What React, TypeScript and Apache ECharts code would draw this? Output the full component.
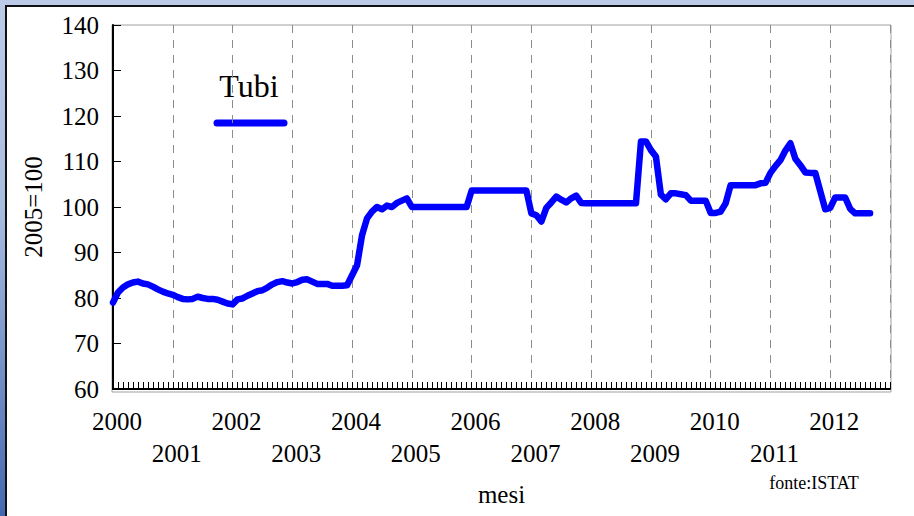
import React, { useEffect, useRef } from "react";
import * as echarts from "echarts";

// Monthly categories Jan 2000 .. Jan 2013
const years: number[] = [2000, 2001, 2002, 2003, 2004, 2005, 2006, 2007, 2008, 2009, 2010, 2011, 2012, 2013];
const monthCats: string[] = [];
years.forEach((y) => {
  for (let m = 1; m <= 12; m++) monthCats.push(`${y}-${m < 10 ? "0" + m : m}`);
});
const categories = monthCats.slice(0, 157);

// Tubi index (2005=100), monthly values
const v2000 = [79.0, 81.2, 82.3, 83.0, 83.4, 83.6, 83.2, 83.0, 82.5, 81.9, 81.4, 81.0];
const v2001 = [80.7, 80.2, 79.8, 79.7, 79.8, 80.3, 80.0, 79.8, 79.8, 79.6, 79.2, 78.8];
const v2002 = [78.6, 79.7, 79.9, 80.5, 81.0, 81.5, 81.7, 82.3, 83.0, 83.5, 83.7, 83.4];
const v2003 = [83.2, 83.5, 84.0, 84.1, 83.6, 83.1, 83.1, 83.1, 82.7, 82.7, 82.7, 82.8];
const v2004 = [85.0, 87.2, 93.8, 97.5, 99.0, 100.0, 99.5, 100.3, 100.0, 100.9, 101.4, 101.9];
const v2005 = [100.0, 100.0, 100.0, 100.0, 100.0, 100.0, 100.0, 100.0, 100.0, 100.0, 100.0, 100.0];
const v2006 = [103.6, 103.6, 103.6, 103.6, 103.6, 103.6, 103.6, 103.6, 103.6, 103.6, 103.6, 103.6];
const v2007 = [98.6, 98.2, 96.8, 99.8, 101.0, 102.3, 101.6, 101.0, 101.9, 102.5, 100.9, 100.8];
const v2008 = [100.8, 100.8, 100.8, 100.8, 100.8, 100.8, 100.8, 100.8, 100.8, 100.8, 114.4, 114.4];
const v2009 = [112.5, 111.1, 102.7, 101.7, 103.0, 103.0, 102.8, 102.6, 101.4, 101.4, 101.4, 101.4];
const v2010 = [98.7, 98.7, 99.0, 100.8, 104.8, 104.8, 104.8, 104.8, 104.8, 104.8, 105.2, 105.3];
const v2011 = [107.5, 109.0, 110.3, 112.4, 114.0, 110.6, 109.2, 107.6, 107.5, 107.5, 103.5, 99.5];
const v2012 = [99.8, 102.1, 102.1, 102.1, 99.6, 98.6, 98.6, 98.6, 98.6];

const tubi = [
  ...v2000, ...v2001, ...v2002, ...v2003, ...v2004, ...v2005, ...v2006,
  ...v2007, ...v2008, ...v2009, ...v2010, ...v2011, ...v2012,
];

const seriesName = "Tubi";
const yAxisName = "2005=100";
const xAxisName = "mesi";
const sourceText = "fonte:ISTAT";

const FONT = "'Liberation Serif', 'Times New Roman', serif";

export default function App() {
  const ref = useRef<HTMLDivElement>(null);

  useEffect(() => {
    if (!ref.current) return;
    const chart = echarts.init(ref.current, null, { renderer: "svg" });
    chart.setOption({
      animation: false,
      backgroundColor: "transparent",
      textStyle: { fontFamily: FONT },
      grid: { left: 113, right: 24, top: 25, bottom: 127, containLabel: false, outerBoundsMode: "none" },
      xAxis: {
        type: "category",
        data: categories,
        boundaryGap: false,
        name: xAxisName,
        nameLocation: "middle",
        nameGap: 93,
        nameTextStyle: { fontSize: 25, color: "#000", fontFamily: FONT },
        axisLine: { show: true, lineStyle: { color: "#000", width: 2 } },
        axisTick: { show: true, inside: true, interval: 0, length: 7, lineStyle: { color: "#000", width: 1 } },
        splitLine: {
          show: true,
          interval: (i: number) => i % 12 === 0,
          lineStyle: { color: "#8c8c8c", width: 1, type: [8, 7] },
        },
        axisLabel: {
          interval: (i: number) => i % 12 === 0 && i < 156,
          formatter: (val: string) => {
            const y = parseInt(val.slice(0, 4), 10);
            return y % 2 === 0 ? String(y) : "\n" + y;
          },
          fontSize: 25,
          lineHeight: 32,
          margin: 16,
          color: "#000",
          fontFamily: FONT,
          padding: [0, 0, 0, 8],
        },
      },
      yAxis: {
        type: "value",
        min: 60,
        max: 140,
        interval: 10,
        name: yAxisName,
        nameLocation: "middle",
        nameRotate: 90,
        nameGap: 67,
        nameTextStyle: { fontSize: 25, color: "#000", fontFamily: FONT },
        axisLine: { show: true, lineStyle: { color: "#000", width: 2 } },
        axisTick: { show: true, inside: true, length: 8, lineStyle: { color: "#000", width: 1 } },
        splitLine: { show: false },
        axisLabel: { fontSize: 25, margin: 14, color: "#000", fontFamily: FONT },
      },
      graphic: [
        {
          type: "rect",
          z: -1,
          shape: { x: 112, y: 25, width: 779, height: 367 },
          style: { fill: "none", stroke: "#a0a0a0", lineWidth: 1 },
          silent: true,
        },
        {
          type: "text",
          x: 249,
          y: 86,
          style: {
            text: seriesName,
            fontSize: 32,
            fontFamily: FONT,
            fill: "#000",
            align: "center",
            verticalAlign: "middle",
          },
        },
        {
          type: "line",
          shape: { x1: 217, y1: 123, x2: 284, y2: 123 },
          style: { stroke: "#0000ff", lineWidth: 7, lineCap: "round" },
        },
        {
          type: "text",
          x: 814,
          y: 483,
          style: {
            text: sourceText,
            fontSize: 18,
            fontFamily: FONT,
            fill: "#000",
            align: "center",
            verticalAlign: "middle",
          },
        },
      ],
      series: [
        {
          name: seriesName,
          type: "line",
          data: tubi,
          symbol: "none",
          lineStyle: { color: "#0000ff", width: 6.5, join: "round", cap: "round" },
          z: 5,
        },
      ],
    });
    return () => chart.dispose();
  }, []);

  return (
    <div
      style={{
        position: "absolute",
        left: 0,
        top: 0,
        width: 914,
        height: 516,
        background: "linear-gradient(to bottom, #bccbe8 0%, #a9bde0 40%, #4468b0 100%)",
        overflow: "hidden",
      }}
    >
      <div
        style={{
          position: "absolute",
          left: 5,
          top: 5,
          width: 909,
          height: 511,
          boxSizing: "border-box",
          borderLeft: "2px solid #111",
          borderTop: "2px solid #111",
          background: "#fff",
        }}
      />
      <div ref={ref} style={{ position: "absolute", left: 0, top: 0, width: 914, height: 516 }} />
    </div>
  );
}
